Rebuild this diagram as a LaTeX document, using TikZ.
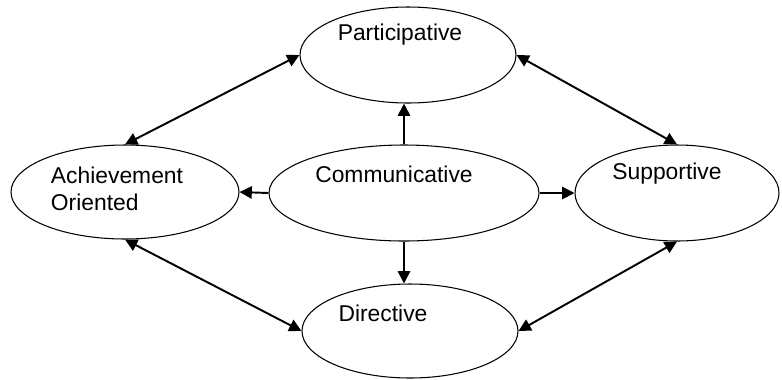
\documentclass[tikz,border=0pt]{standalone}
\usepackage{fontspec}
\setmainfont{Liberation Sans}
\usetikzlibrary{shapes.geometric,arrows.meta}
\begin{document}
\begin{tikzpicture}[
  every node/.style={font=\fontsize{13pt}{15.5pt}\selectfont},
  oval/.style={draw,ellipse,line width=0.6pt,inner sep=0pt},
  arr/.style={line width=1.1pt,-{Triangle[length=7pt,width=7pt]}},
  both/.style={line width=1.1pt,{Triangle[length=7pt,width=7pt]}-{Triangle[length=7pt,width=7pt]}}]
  \useasboundingbox (0,0) rectangle (15.64,-7.58);
  % the five styles
  \node[oval,minimum width=4.32cm,minimum height=1.92cm] (part) at (8.16,-1.10) {};
  \node[oval,minimum width=4.56cm,minimum height=1.88cm] (ach)  at (2.50,-3.84) {};
  \node[oval,minimum width=5.40cm,minimum height=1.92cm] (comm) at (8.08,-3.86) {};
  \node[oval,minimum width=4.08cm,minimum height=1.92cm] (sup)  at (13.54,-3.86) {};
  \node[oval,minimum width=4.32cm,minimum height=1.88cm] (dir)  at (8.20,-6.62) {};
  % texts sit above the centre
  \node (partT) at (8.00,-0.70) {Participative};
  \node[align=left] (achT) at (2.34,-3.77) {Achievement\\Oriented};
  \node (commT) at (7.88,-3.48) {Communicative};
  \node (supT)  at (13.34,-3.48) {Supportive};
  \node (dirT)  at (7.66,-6.26) {Directive};
  % from the centre
  \draw[arr] (comm.north) -- (comm.north |- part.south);
  \draw[arr] (comm.south) -- (comm.south |- dir.north);
  \draw[arr] (comm.west) -- (ach.east);
  \draw[arr] (comm.east) -- (sup.west);
  % round the outside
  \draw[both] (part.west) -- (ach.north);
  \draw[both] (part.east) -- (sup.north);
  \draw[both] (ach.south) -- (dir.west);
  \draw[both] (dir.east) -- (sup.south);
\end{tikzpicture}
\end{document}
